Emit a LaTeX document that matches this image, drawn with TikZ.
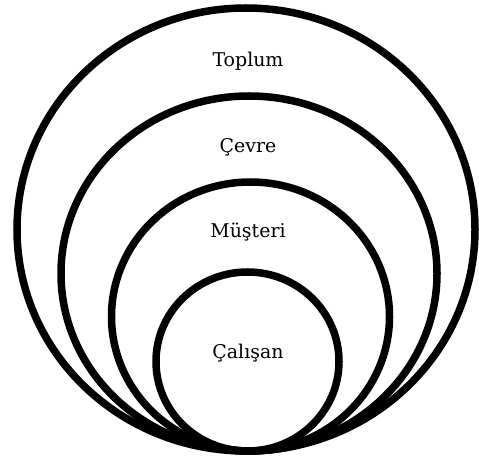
\documentclass[tikz,border=0pt]{standalone}
\usepackage{fontspec}
\setmainfont{DejaVu Serif}
\begin{document}
\begin{tikzpicture}[x=1bp,y=-1bp,
  ring/.style={line width=7.5bp, draw=black},
  lbl/.style={font=\fontsize{19}{22}\selectfont, inner sep=0pt, anchor=base}]
\useasboundingbox (0,0) rectangle (479,457);
\draw[ring] (246,229.5) ellipse [x radius=229, y radius=221.5];
\draw[ring] (249,273.5) ellipse [x radius=188, y radius=177.5];
\draw[ring] (250.5,316.5) ellipse [x radius=139, y radius=134.5];
\draw[ring] (247.5,361.5) ellipse [x radius=91.5, y radius=89.5];
\node[lbl] (toplum) at (248,67) {Toplum};
\node[lbl] (cevre) at (248,153) {Çevre};
\node[lbl] (musteri) at (248,238) {Müşteri};
\node[lbl] (calisan) at (248,358) {Çalışan};
\end{tikzpicture}
\end{document}
